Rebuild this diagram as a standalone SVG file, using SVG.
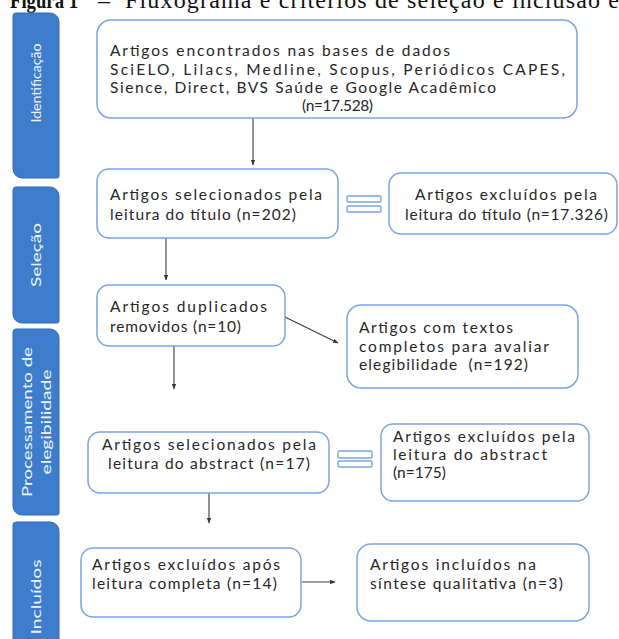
<svg xmlns="http://www.w3.org/2000/svg" width="619" height="639" viewBox="0 0 619 639">
<defs>
<marker id="ah" viewBox="0 0 10 10" refX="9" refY="5" markerWidth="5" markerHeight="5" orient="auto">
<path d="M0,1 L10,5 L0,9 Z" fill="#3a3a3a"/>
</marker>
<style>
.box{fill:#ffffff;stroke:#7ba4e6;stroke-width:1.5}
.bar{fill:#3d7dcb;stroke:#2e6ab8;stroke-width:1}
.bl{fill:#eef3fb;font-family:Lato,"Noto Sans",sans-serif;font-size:14px;text-anchor:middle}
.t{fill:#262626;font-family:Lato,"Noto Sans",sans-serif;font-size:15.5px}
.eq{fill:#ffffff;stroke:#7ba4e6;stroke-width:1.4}
.ln{stroke:#3a3a3a;stroke-width:1.1;fill:none;marker-end:url(#ah)}
.title{font-family:"Liberation Serif",serif;font-size:24px;fill:#111}
</style>
</defs>
<rect width="619" height="639" fill="#ffffff"/>
<g id="title">
<text class="title" x="10" y="8"><tspan font-weight="bold" textLength="68" lengthAdjust="spacingAndGlyphs">Figura 1</tspan><tspan x="98">–</tspan><tspan x="125" textLength="494" lengthAdjust="spacing">Fluxograma e critérios de seleção e inclusão e</tspan></text>
</g>
<g id="bar-identificacao">
<path class="bar" d="M16,13 H50 A9,9 0 0 1 59,22 V176 A2,2 0 0 1 57,178 H22 A9,9 0 0 1 13,169 V16 A3,3 0 0 1 16,13 Z"/>
<text class="bl" transform="translate(36,83) rotate(-90)" x="0" y="5" textLength="79" lengthAdjust="spacingAndGlyphs">Identificação</text>
</g>
<g id="bar-selecao">
<path class="bar" d="M16,187 H50 A9,9 0 0 1 59,196 V321 A2,2 0 0 1 57,323 H22 A9,9 0 0 1 13,314 V190 A3,3 0 0 1 16,187 Z"/>
<text class="bl" transform="translate(36,255) rotate(-90)" x="0" y="5" textLength="64" lengthAdjust="spacingAndGlyphs">Seleção</text>
</g>
<g id="bar-processamento">
<path class="bar" d="M16,329 H50 A9,9 0 0 1 59,338 V513 A2,2 0 0 1 57,515 H22 A9,9 0 0 1 13,506 V332 A3,3 0 0 1 16,329 Z"/>
<text class="bl" transform="translate(27,422) rotate(-90)" x="0" y="5" textLength="150" lengthAdjust="spacingAndGlyphs">Processamento de</text>
<text class="bl" transform="translate(46,422) rotate(-90)" x="0" y="5" textLength="105" lengthAdjust="spacingAndGlyphs">elegibilidade</text>
</g>
<g id="bar-incluidos">
<path class="bar" d="M16,522 H50 A9,9 0 0 1 59,531 V645 H13 V525 A3,3 0 0 1 16,522 Z"/>
<text class="bl" transform="translate(36,597) rotate(-90)" x="0" y="5" textLength="75" lengthAdjust="spacingAndGlyphs">Incluídos</text>
</g>
<g id="connectors">
<line class="ln" x1="253" y1="118" x2="253" y2="165"/>
<line class="ln" x1="166" y1="238" x2="166" y2="280"/>
<line class="ln" x1="285" y1="317" x2="338" y2="343"/>
<line class="ln" x1="174" y1="346" x2="174" y2="389"/>
<line class="ln" x1="209" y1="493" x2="209" y2="523"/>
<line class="ln" x1="302" y1="582" x2="335" y2="582"/>
<g id="eq1"><rect class="eq" x="347" y="196" width="34" height="6" rx="1.5"/><rect class="eq" x="347" y="206" width="34" height="6" rx="1.5"/></g>
<g id="eq2"><rect class="eq" x="338" y="451" width="34" height="7" rx="1.5"/><rect class="eq" x="338" y="461" width="34" height="6" rx="1.5"/></g>
</g>
<g id="n1">
<rect class="box" x="97" y="20" width="480" height="98" rx="14"/>
<text class="t" x="110" y="56" textLength="340" lengthAdjust="spacing">Artigos encontrados nas bases de dados</text>
<text class="t" x="110" y="75" textLength="455" lengthAdjust="spacing">SciELO, Lilacs, Medline, Scopus, Periódicos CAPES,</text>
<text class="t" x="110" y="93" textLength="386" lengthAdjust="spacing">Sience, Direct, BVS Saúde e Google Acadêmico</text>
<text class="t" x="302" y="111" textLength="71" lengthAdjust="spacing">(n=17.528)</text>
</g>
<g id="n2">
<rect class="box" x="97" y="169" width="241" height="69" rx="12"/>
<text class="t" x="110" y="200" textLength="212" lengthAdjust="spacing">Artigos selecionados pela</text>
<text class="t" x="110" y="220" textLength="186" lengthAdjust="spacing">leitura do título (n=202)</text>
</g>
<g id="n3">
<rect class="box" x="389" y="173" width="228" height="61" rx="12"/>
<text class="t" x="415" y="200" textLength="182" lengthAdjust="spacing">Artigos excluídos pela</text>
<text class="t" x="405" y="220" textLength="203" lengthAdjust="spacing">leitura do título (n=17.326)</text>
</g>
<g id="n4">
<rect class="box" x="97" y="285" width="188" height="61" rx="12"/>
<text class="t" x="110" y="312" textLength="157" lengthAdjust="spacing">Artigos duplicados</text>
<text class="t" x="110" y="332" textLength="131" lengthAdjust="spacing">removidos (n=10)</text>
</g>
<g id="n5">
<rect class="box" x="347" y="305" width="231" height="83" rx="14"/>
<text class="t" x="359" y="333" textLength="154" lengthAdjust="spacing">Artigos com textos</text>
<text class="t" x="359" y="352" textLength="190" lengthAdjust="spacing">completos para avaliar</text>
<text class="t" x="359" y="370" textLength="169" lengthAdjust="spacing" xml:space="preserve">elegibilidade  (n=192)</text>
</g>
<g id="n6">
<rect class="box" x="88" y="432" width="241" height="61" rx="12"/>
<text class="t" x="102" y="450" textLength="214" lengthAdjust="spacing">Artigos selecionados pela</text>
<text class="t" x="108" y="469" textLength="202" lengthAdjust="spacing">leitura do abstract (n=17)</text>
</g>
<g id="n7">
<rect class="box" x="381" y="424" width="208" height="77" rx="12"/>
<text class="t" x="393" y="442" textLength="182" lengthAdjust="spacing">Artigos excluídos pela</text>
<text class="t" x="393" y="460" textLength="154" lengthAdjust="spacing">leitura do abstract</text>
<text class="t" x="393" y="478" textLength="53" lengthAdjust="spacing">(n=175)</text>
</g>
<g id="n8">
<rect class="box" x="81" y="548" width="220" height="69" rx="12"/>
<text class="t" x="92" y="570" textLength="188" lengthAdjust="spacing">Artigos excluídos após</text>
<text class="t" x="92" y="589" textLength="185" lengthAdjust="spacing">leitura completa (n=14)</text>
</g>
<g id="n9">
<rect class="box" x="357" y="544" width="232" height="77" rx="14"/>
<text class="t" x="370" y="570" textLength="166" lengthAdjust="spacing">Artigos incluídos na</text>
<text class="t" x="370" y="589" textLength="193" lengthAdjust="spacing">síntese qualitativa (n=3)</text>
</g>
</svg>
